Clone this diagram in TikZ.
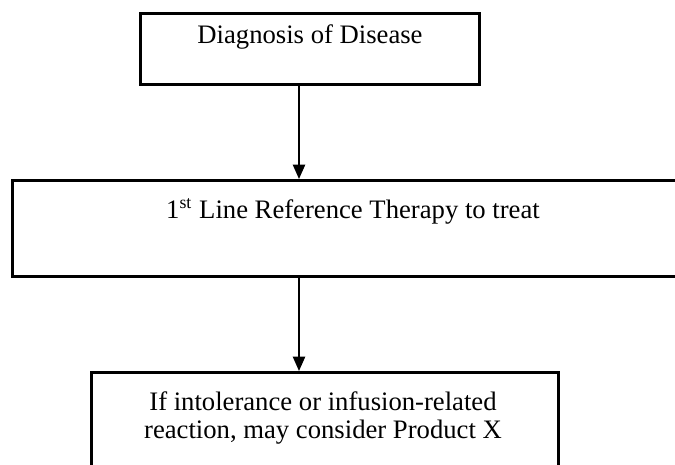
\documentclass[tikz,border=0pt]{standalone}
\usepackage{fontspec}
\setmainfont{Liberation Serif}
\usepackage{tikz}
\usetikzlibrary{arrows.meta,positioning}

\begin{document}
\begin{tikzpicture}
[x=0.45pt,y=-0.45pt,
box/.style={draw,line width=1.2pt,inner sep=0pt,anchor=north west},
txt/.style={inner sep=0pt,align=center,font=\fontsize{12}{13}\selectfont},
arr/.style={line width=0.9pt,-{Triangle[width=5.5pt,length=6.5pt]}}]
\useasboundingbox (0,0) rectangle (675,464);
\clip (0,0) rectangle (675,464);
\coordinate (ax) at (299,0);
\node[box,minimum width=152.55pt,minimum height=31.95pt] (diag) at (139,12) {};
\node[box,minimum width=310.05pt,minimum height=43.2pt] (ref) at (11,179) {};
\node[box,minimum width=210.15pt,minimum height=54pt] (prodx) at (90,371) {};
\node[txt,anchor=base] (diagtxt) at (310,43) {Diagnosis of Disease};
\node[txt,anchor=base] (reftxt) at (353,218) {1\textsuperscript{st} Line Reference Therapy to treat};
\node[txt] (prodxtxt) at (323,418) {If intolerance or infusion-related\\reaction, may consider Product X};
\draw[arr] (diag.south -| ax) -- (ref.north -| ax);
\draw[arr] (ref.south -| ax) -- (prodx.north -| ax);
\end{tikzpicture}
\end{document}
